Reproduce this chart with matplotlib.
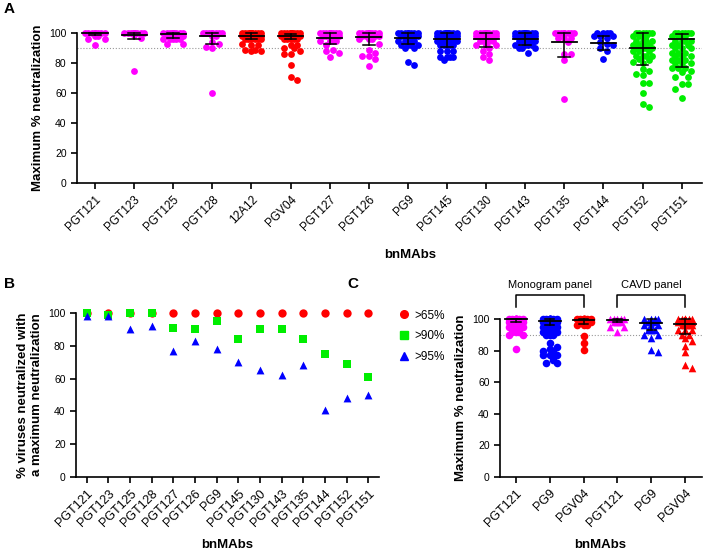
import numpy as np
import matplotlib
matplotlib.use("Agg")
import matplotlib.pyplot as plt
from matplotlib.lines import Line2D

plt.rcParams['font.family'] = ['Liberation Sans', 'DejaVu Sans']

MAG, RED, BLUE, GREEN = '#ff00ff', '#ff0000', '#0000ff', '#00ee00'

# --- panel A: max % neutralization per bnMAb ---
a_names = ["PGT121", "PGT123", "PGT125", "PGT128", "12A12", "PGV04", "PGT127", "PGT126",
           "PG9", "PGT145", "PGT130", "PGT143", "PGT135", "PGT144", "PGT152", "PGT151"]
a_colors = [MAG, MAG, MAG, MAG, RED, RED, MAG, MAG, BLUE, BLUE, MAG, BLUE, MAG, BLUE, GREEN, GREEN]
a_vals = [
    [100]*8 + [98, 98, 96, 96, 92],
    [100]*10 + [99, 97, 75],
    [100]*10 + [98]*6 + [96]*5 + [93, 93],
    [100]*8 + [98, 98, 94, 93, 91, 90, 60],
    [100]*15 + [98]*10 + [96]*6 + [92, 92, 93] + [89, 89, 88, 88],
    [100]*12 + [98]*8 + [96]*5 + [92, 92, 90, 90, 88, 86, 86, 79, 71, 69],
    [100]*10 + [98]*6 + [95]*4 + [92, 89, 88, 87, 84],
    [100]*10 + [98]*6 + [96]*3 + [93, 89, 87, 85, 85, 83, 78],
    [100]*8 + [98]*6 + [95]*5 + [92]*4 + [90, 90, 81, 79],
    [100]*16 + [98]*10 + [95]*8 + [92]*5 + [88]*3 + [84]*4 + [82],
    [100]*12 + [98]*8 + [95]*5 + [92]*3 + [90, 88, 86, 84, 82],
    [100]*12 + [98]*8 + [95]*6 + [92]*4 + [90]*3 + [87],
    [100]*8 + [97]*3 + [94, 86, 86, 82, 56],
    [100]*4 + [98]*3 + [97, 94, 93, 92, 90, 88, 83],
    [100]*6 + [98]*4 + [95]*4 + [92]*4 + [90]*4 + [88]*3 + [85]*4 + [83, 82, 81, 80, 76, 75, 73, 72, 67, 67, 60, 53, 51],
    [100]*6 + [98]*4 + [95]*4 + [92]*3 + [90]*3 + [87]*3 + [85]*3 + [82]*3 + [80]*3 + [77]*3 + [75, 74, 71, 71, 66, 66, 63, 57],
]
a_median = [100, 99, 99.5, 98, 98, 98, 97, 97.3, 97, 95.8, 95.8, 95.8, 94.2, 93.6, 90.2, 95.8]
a_q1 = [99, 96, 97, 92.7, 96, 96, 92.7, 92.2, 93, 91, 91, 92, 84.2, 88.7, 78.7, 77.5]
a_q3 = [100, 100, 100, 100, 100, 99.3, 100, 100, 100, 100, 100, 99.8, 100, 98, 100, 99.1]

# --- panel B: % viruses reaching each neutralization threshold ---
b_names = ["PGT121", "PGT123", "PGT125", "PGT128", "PGT127", "PGT126", "PG9", "PGT145",
           "PGT130", "PGT143", "PGT135", "PGT144", "PGT152", "PGT151"]
b_65 = [100]*14
b_90 = [100, 99, 100, 100, 91, 90, 95, 84, 90, 90, 84, 75, 69, 61]
b_95 = [98, 98, 90, 92, 77, 83, 78, 70, 65, 62, 68, 41, 48, 50]

# --- panel C: Monogram vs CAVD panels ---
c_names = ["PGT121", "PG9", "PGV04", "PGT121", "PG9", "PGV04"]
c_colors = [MAG, BLUE, RED, MAG, BLUE, RED]
c_markers = ['o', 'o', 'o', '^', '^', '^']
c_vals = [
    [100]*10 + [98]*6 + [95]*4 + [92]*3 + [90, 90, 81],
    [100]*10 + [98]*6 + [95]*5 + [92]*5 + [90]*3 + [85, 82, 80, 80, 81, 77, 77, 77, 74, 72, 72],
    [100]*8 + [98]*4 + [96]*3 + [89, 85, 80.5],
    [100]*5 + [98]*3 + [95, 95, 92],
    [100]*4 + [98]*3 + [96]*3 + [93]*3 + [90, 90, 88, 79, 80.5],
    [100]*10 + [98]*5 + [96]*4 + [93]*3 + [90, 90, 88, 86, 83, 79, 71, 69],
]
c_median = [100, 99, 99.4, 99.4, 97.2, 96.6]
c_q1 = [98, 96, 97, 98, 93, 90.5]
c_q3 = [100, 100, 100, 100, 100, 100]


def swarm(vals, sx, sy, d, maxw):
    vals = np.asarray(vals, float)
    order = np.argsort(-vals, kind='stable')
    step = d * 0.5
    cands = [0.0]
    k = 1
    while k * step <= maxw:
        cands += [k * step, -k * step]
        k += 1
    placed, offs = [], np.zeros(len(vals))
    for i in order:
        y = vals[i] * sy
        best, bestd = 0.0, -1
        for c in cands:
            md = min((np.hypot(c - px, y - py) for px, py in placed), default=1e9)
            if md >= d * 0.9:
                best = c
                break
            if md > bestd:
                bestd, best = md, c
        offs[i] = best / sx
        placed.append((best, y))
    return offs


def style(ax):
    for s in ['top', 'right']:
        ax.spines[s].set_visible(False)
    for s in ['left', 'bottom']:
        ax.spines[s].set_linewidth(1.2)
    ax.tick_params(width=1.2, length=4, labelsize=7.5)
    ax.set_ylim(0, 100)
    ax.set_yticks(range(0, 101, 20))


def dotplot(ax, vals_list, colors, markers, med, q1, q3, d, maxw, s, mw, cw):
    ax.figure.canvas.draw()
    bb = ax.get_window_extent()
    x0, x1 = ax.get_xlim()
    sx = bb.width / (x1 - x0)
    sy = bb.height / 100
    for i, v in enumerate(vals_list):
        offs = swarm(v, sx, sy, d, maxw)
        ax.scatter(i + offs, v, s=s, c=colors[i], marker=markers[i], linewidths=0,
                   clip_on=False, zorder=3)
        ax.plot([i - mw, i + mw], [med[i]]*2, color='black', lw=1.3, zorder=4, clip_on=False)
        ax.plot([i, i], [q1[i], q3[i]], color='black', lw=1.1, zorder=4, clip_on=False)
        for q in (q1[i], q3[i]):
            ax.plot([i - cw, i + cw], [q, q], color='black', lw=1.1, zorder=4, clip_on=False)


fig = plt.figure(figsize=(7.03, 5.5), dpi=100)

# A
axA = fig.add_axes([77/703, 1 - 183/550, 625/703, 150/550])
axA.set_xlim(-0.46, 15.52)
style(axA)
axA.axhline(90, color='#999999', ls=':', lw=0.8, zorder=1)
dotplot(axA, a_vals, a_colors, ['o']*16, a_median, a_q1, a_q3, 6.5, 11, 24, 0.32, 0.15)
axA.set_xticks(range(len(a_names)))
axA.set_xticklabels(a_names, rotation=45, ha='right', rotation_mode='anchor', fontsize=8.5)
axA.set_ylabel("Maximum % neutralization", fontsize=9.5, fontweight='bold', labelpad=4)
fig.text(410/703, 1 - 255/550, "bnMAbs", fontsize=9.5, fontweight='bold', ha='center', va='center')

# B
axB = fig.add_axes([76/703, 1 - 477/550, 303/703, 164/550])
axB.set_xlim(-0.5, 13.5)
style(axB)
xb = np.arange(len(b_names))
axB.scatter(xb, b_65, s=36, c=RED, marker='o', linewidths=0, clip_on=False, zorder=3)
axB.scatter(xb, b_90, s=36, c=GREEN, marker='s', linewidths=0, clip_on=False, zorder=4)
axB.scatter(xb, b_95, s=32, c=BLUE, marker='^', linewidths=0, clip_on=False, zorder=5)
axB.set_xticks(xb)
axB.set_xticklabels(b_names, rotation=45, ha='right', rotation_mode='anchor', fontsize=9)
axB.set_ylabel("% viruses neutralized with\na maximum neutralization", fontsize=9.5,
               fontweight='bold', labelpad=4)
fig.text(227/703, 1 - 545/550, "bnMAbs", fontsize=9.5, fontweight='bold', ha='center', va='center')
handles = [Line2D([], [], ls='', marker='o', color=RED, ms=5.5),
           Line2D([], [], ls='', marker='s', color=GREEN, ms=5.5),
           Line2D([], [], ls='', marker='^', color=BLUE, ms=5.5)]
fig.legend(handles, [">65%", ">90%", ">95%"], loc='upper left',
           bbox_to_anchor=(386/703, 1 - 299/550), frameon=False, fontsize=8.5,
           handletextpad=0.3, labelspacing=0.75, handlelength=1.2)

# C
axC = fig.add_axes([500/703, 1 - 477/550, 202/703, 158/550])
axC.set_xlim(-0.47, 5.5)
style(axC)
axC.axhline(90, color='#999999', ls=':', lw=0.8, zorder=1)
dotplot(axC, c_vals, c_colors, c_markers, c_median, c_q1, c_q3, 7, 9, 30, 0.32, 0.14)
axC.set_xticks(range(len(c_names)))
axC.set_xticklabels(c_names, rotation=45, ha='right', rotation_mode='anchor', fontsize=9)
axC.set_ylabel("Maximum % neutralization", fontsize=9.5, fontweight='bold', labelpad=4)
fig.text(600/703, 1 - 545/550, "bnMAbs", fontsize=9.5, fontweight='bold', ha='center', va='center')
trC = axC.get_xaxis_transform()
for (a, b), lab in zip([(0, 2), (3, 5)], ["Monogram panel", "CAVD panel"]):
    axC.plot([a, a, b, b], [1.076, 1.152, 1.152, 1.076], color='black', lw=1.1,
             transform=trC, clip_on=False)
    axC.text((a + b) / 2, 1.215, lab, transform=trC, ha='center', va='center', fontsize=8)

for lab, x, y in [("A", 4, 9), ("B", 4, 284), ("C", 347, 284)]:
    fig.text(x/703, 1 - y/550, lab, fontsize=11, fontweight='bold', ha='left', va='center')

fig.savefig("out.png", dpi=100)
